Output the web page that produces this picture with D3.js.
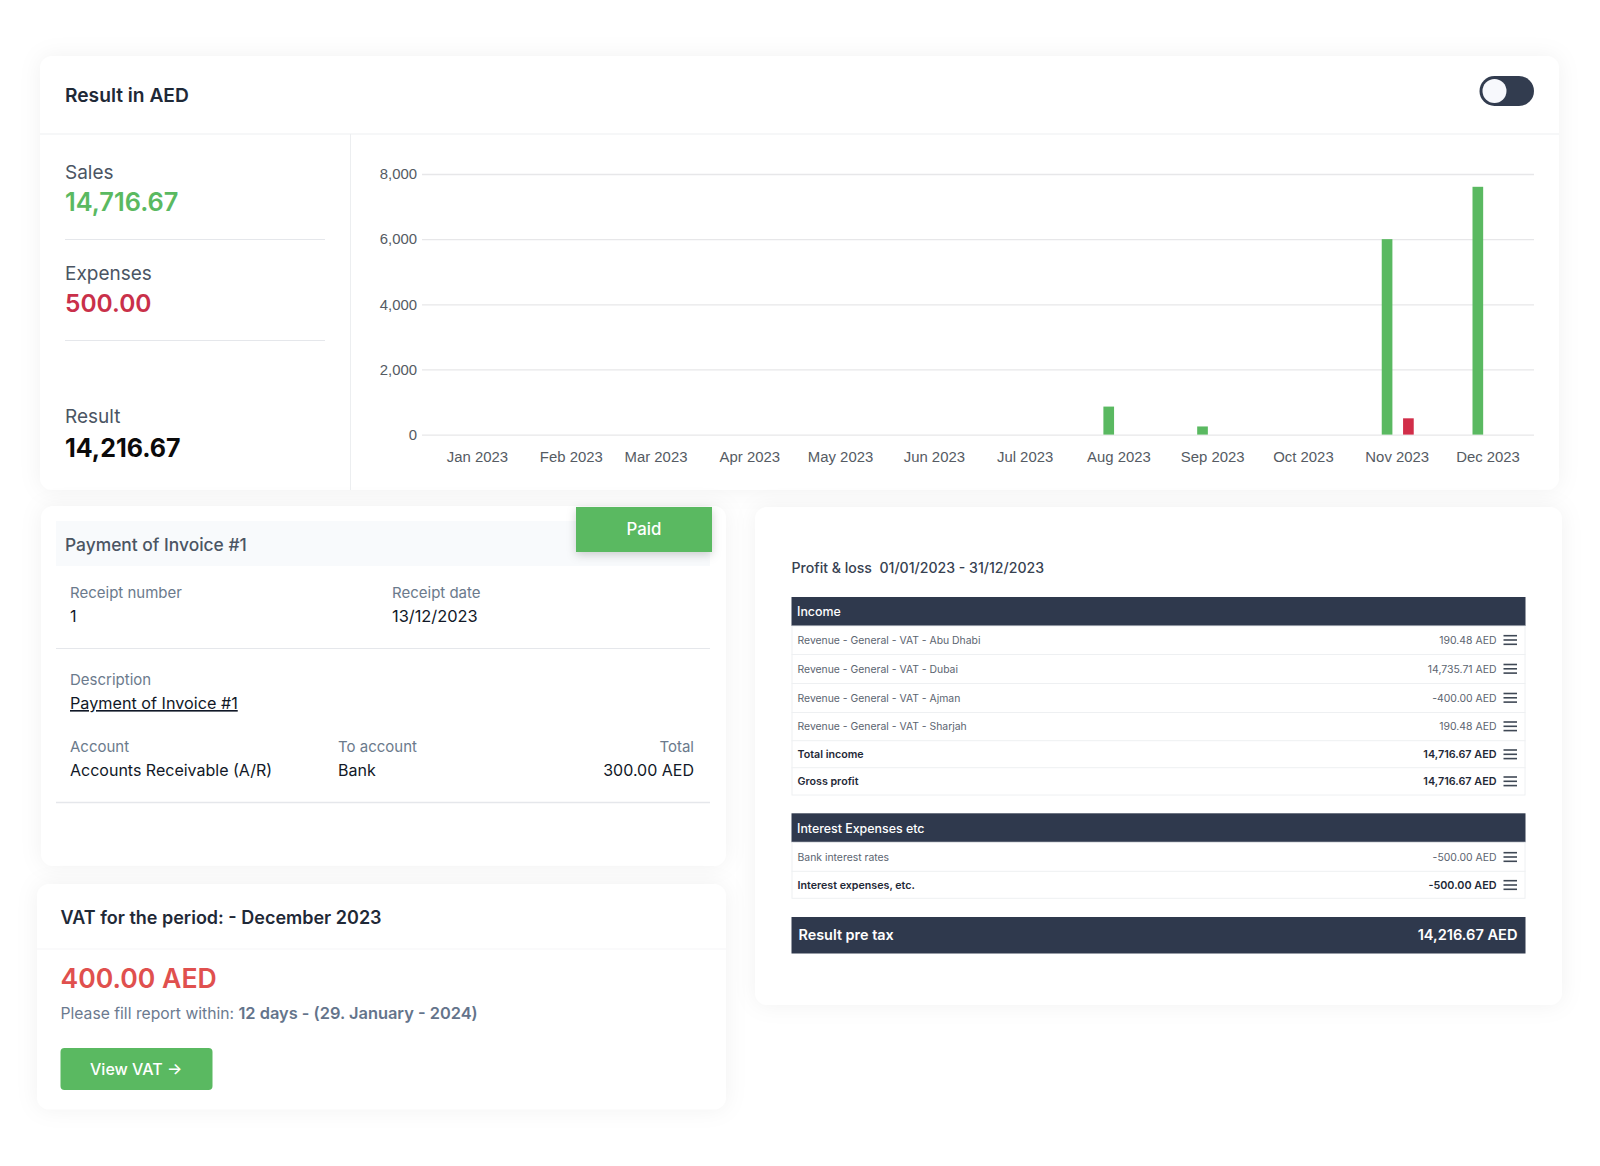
<!DOCTYPE html>
<html><head><meta charset="utf-8">
<script src="https://cdn.jsdelivr.net/npm/d3@7"></script>
<style>
html,body{margin:0;padding:0;background:#fff}
svg{display:block}
text{font-family:Inter,"Noto Sans",sans-serif}
.axis text{font-family:"Liberation Sans",Arial,sans-serif;font-size:14.9px;fill:#555b63}
</style></head><body><div id="c"></div>
<script>
const months=["2023-01-01","2023-02-01","2023-03-01","2023-04-01","2023-05-01","2023-06-01","2023-07-01","2023-08-01","2023-09-01","2023-10-01","2023-11-01","2023-12-01"];
const salesValues=[0,0,0,0,0,0,0,860,250,0,6000,7607];
const expenseValues=[0,0,0,0,0,0,0,0,0,0,500,0];
const yTicks=[0,2000,4000,6000,8000];
const incomeLabels=["Revenue - General - VAT - Abu Dhabi","Revenue - General - VAT - Dubai","Revenue - General - VAT - Ajman","Revenue - General - VAT - Sharjah"];
const incomeAmounts=["190.48 AED","14,735.71 AED","-400.00 AED","190.48 AED"];
const incomeTotalLabels=["Total income","Gross profit"];
const incomeTotalAmounts=["14,716.67 AED","14,716.67 AED"];

const GREEN="#5ab961",RED="#d12e49",NAVY="#2f394d";
const svg=d3.select("#c").append("svg").attr("width",1600).attr("height",1166);
const T=(x,y,s,size,weight,fill,anchor)=>svg.append("text").attr("x",x).attr("y",y).text(s)
  .attr("font-size",size).attr("font-weight",weight).attr("fill",fill).attr("text-anchor",anchor||"start");
const L=(x1,y1,x2,y2,c,w)=>svg.append("line").attr("x1",x1).attr("y1",y1).attr("x2",x2).attr("y2",y2).attr("stroke",c).attr("stroke-width",w||1);
const R=(x,y,w,h,f,r)=>svg.append("rect").attr("x",x).attr("y",y).attr("width",w).attr("height",h).attr("fill",f).attr("rx",r||0);
const card=(x,y,w,h)=>R(x,y,w,h,"#fff",12).style("filter","drop-shadow(0 0 11px rgba(0,0,0,.055))");

// cards
card(40,56,1519,434);
card(41,506,685,360);
card(37,884,689,225.5);
card(755,507,807,498);

// ---- top card
T(65,101.5,"Result in AED",19.2,600,"#1f2937");
L(40,134,1559,134,"#f3f4f6",1.5);
L(350.5,134,350.5,490,"#eceef0",1);
R(1479.5,76,54.5,30,"#323c4f",15);
svg.append("circle").attr("cx",1494.5).attr("cy",91).attr("r",12).attr("fill","#f7f8fc");

T(65,179,"Sales",19,400,"#4b5563");
T(65,211,"14,716.67",25.4,600,GREEN);
L(65,239.5,325,239.5,"#e5e7eb",1);
T(65,279.5,"Expenses",19,400,"#4b5563");
T(65,312,"500.00",24.5,600,"#c9304a");
L(65,340.5,325,340.5,"#e5e7eb",1);
T(65,423,"Result",19,400,"#4b5563");
T(65,457,"14,216.67",25,700,"#0b0b0b");

// ---- bar chart
const parse=d3.utcParse("%Y-%m-%d");
const dates=months.map(parse);
const y=d3.scaleLinear().domain([0,8000]).range([434.6,174]);
const x=d3.scaleUtc().domain([dates[0],dates[11]]).range([477,1487.5]);
const grp=d3.scaleBand().domain(["sales","expenses"]).range([-15,17]).paddingInner(0.5).paddingOuter(0);
const yAxis=svg.append("g").attr("class","axis").attr("transform","translate(422,0)")
  .call(d3.axisLeft(y).tickValues(yTicks).tickFormat(d3.format(",")).tickSize(-1112).tickPadding(5));
yAxis.select(".domain").remove();
yAxis.selectAll("line").attr("stroke","#e7e7e9").attr("stroke-width",1.3);
const xAxis=svg.append("g").attr("class","axis").attr("transform","translate(0,445)")
  .call(d3.axisBottom(x).tickValues(dates).tickFormat(d3.utcFormat("%b %Y")).tickSize(0).tickPadding(6));
xAxis.select(".domain").remove();
const series=[["sales",salesValues,GREEN],["expenses",expenseValues,RED]];
series.forEach(([k,vals,col])=>{
  svg.append("g").selectAll("rect").data(dates.map((d,i)=>({d,v:vals[i]})).filter(o=>o.v>0)).join("rect")
    .attr("x",o=>x(o.d)+grp(k)).attr("width",grp.bandwidth())
    .attr("y",o=>y(o.v)).attr("height",o=>y(0)-y(o.v)).attr("fill",col);
});

// ---- payment card
R(56,521,654,45,"#f8fafc",0);
T(65,550.5,"Payment of Invoice #1",17.4,500,"#4b5563");
R(576,507,136,45,GREEN,0).style("filter","drop-shadow(0 3px 5px rgba(0,0,0,.18))");
T(644,535,"Paid",16.8,500,"#fff","middle");
const lab="#6b7a8c";
T(70,597.5,"Receipt number",15,400,lab);
T(70,621.5,"1",16,400,"#111827");
T(392,597.5,"Receipt date",15,400,lab);
T(392,621.5,"13/12/2023",16.4,400,"#111827");
L(56,648.5,710,648.5,"#e5e7eb",1);
T(70,685,"Description",15,400,lab);
T(70,709,"Payment of Invoice #1",16.2,400,"#111827").attr("text-decoration","underline");
T(70,751.5,"Account",15,400,lab);
T(70,775.5,"Accounts Receivable (A/R)",16,400,"#111827");
T(338,751.5,"To account",15,400,lab);
T(338,775.5,"Bank",16,400,"#111827");
T(694,751.5,"Total",15,400,lab,"end");
T(694,775.5,"300.00 AED",16,400,"#111827","end");
L(56,802.5,710,802.5,"#e5e7eb",1.5);

// ---- VAT card
T(60.5,923.5,"VAT for the period: - December 2023",18,600,"#1f2937");
L(37,949,726,949,"#f5f5f7",1.2);
T(60.5,988,"400.00 AED",26.6,600,"#e0504e");
const p=T(60.5,1019,"Please fill report within: ",15.7,400,"#6b7a8f");
p.append("tspan").attr("font-weight",600).attr("font-size",16.4).attr("fill","#64748b").text("12 days - (29. January - 2024)");
R(60.5,1048,152,42,GREEN,4);
T(90,1075,"View VAT →",16,500,"#fff");

// ---- P&L card
T(791.5,573,"Profit & loss\u00a0\u00a001/01/2023 - 31/12/2023",14.1,500,"#374151");
const tx=791.5,tw=734,rx=1496.5;
const head=(y0,s)=>{R(tx,y0,tw,29,NAVY);T(797,y0+19.2,s,12.4,500,"#fff");};
const menu=(cy)=>{[-4.3,0,4.3].forEach(d=>L(1503.5,cy+d,1517,cy+d,"#3f4855",1.6));};
const box=(y0,y1)=>svg.append("rect").attr("x",tx+.5).attr("y",y0).attr("width",tw-1).attr("height",y1-y0).attr("fill","none").attr("stroke","#eef0f2");
head(597,"Income");
box(626,795);
const rowB=[643.7,672.5,701.5,730];
const rowL=[654.5,683.5,712.5,740.7,767.7];
rowL.forEach(v=>L(tx,v,tx+tw,v,"#eef0f2",1));
incomeLabels.forEach((s,i)=>{
  T(797.5,rowB[i],s,10.4,400,"#5b6470");
  T(rx,rowB[i],incomeAmounts[i],10.45,400,"#5b6470","end");
  menu(rowB[i]-3.7);
});
const totB=[758,785];
incomeTotalLabels.forEach((s,i)=>{
  T(797.5,totB[i],s,10.7,600,"#1f2937");
  T(rx,totB[i],incomeTotalAmounts[i],10.8,600,"#1f2937","end");
  menu(totB[i]-3.7);
});
head(813.3,"Interest Expenses etc");
box(842.3,898.3);
L(tx,871.3,tx+tw,871.3,"#eef0f2",1);
T(797.5,860.7,"Bank interest rates",10.4,400,"#5b6470");
T(rx,860.7,"-500.00 AED",10.45,400,"#5b6470","end");
menu(857);
T(797.5,888.7,"Interest expenses, etc.",10.7,600,"#1f2937");
T(rx,888.7,"-500.00 AED",10.8,600,"#1f2937","end");
menu(885);
R(tx,917,tw,36.5,NAVY);
T(798.5,940,"Result pre tax",14.4,600,"#fff");
T(1517.5,940,"14,216.67 AED",14.6,600,"#fff","end");
</script></body></html>
